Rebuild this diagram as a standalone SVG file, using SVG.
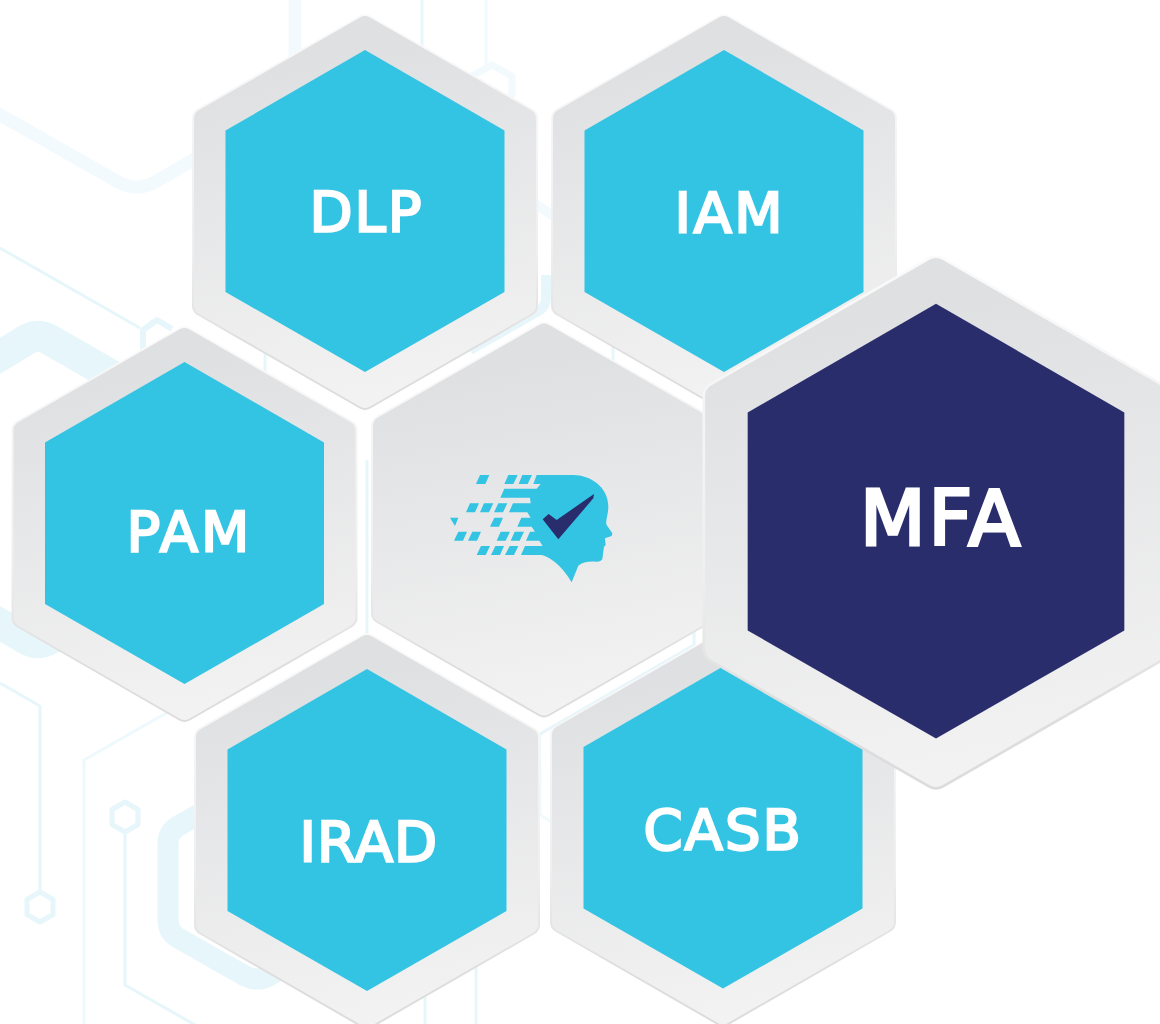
<svg xmlns="http://www.w3.org/2000/svg" xmlns:xlink="http://www.w3.org/1999/xlink" width="1160" height="1024" viewBox="0 0 1160 1024">
<style>
.lbl{font-family:"DejaVu Sans","Liberation Sans",sans-serif;font-weight:400;fill:#fff;stroke:#fff;stroke-width:2.4;font-size:56px}
.line{fill:none;stroke:#e6f6fb;stroke-width:3}
.pale{fill:none;stroke:#f3fafd;stroke-width:13}
.wide{fill:none;stroke:#e7f6fb;stroke-width:21}
.nub{fill:none;stroke:#e6f6fb;stroke-width:5;stroke-linejoin:round}
.shell{fill:url(#shellFill);stroke:url(#shellEdge);stroke-width:2}
.cyan{fill:#33c3e3}
.navy{fill:#2a2d6c}
</style>
<defs>
<linearGradient id="shellFill" x1="0.42" y1="0" x2="0.58" y2="1">
<stop offset="0.1" stop-color="#dfe0e2"/><stop offset="1" stop-color="#f3f3f3"/>
</linearGradient>
<linearGradient id="shellEdge" x1="0.5" y1="0" x2="0.5" y2="1">
<stop offset="0" stop-color="#fafafa"/><stop offset="0.6" stop-color="#efefef"/><stop offset="0.85" stop-color="#dedede"/><stop offset="1" stop-color="#dcdcdc"/>
</linearGradient>
<path id="hexOuter" d="M5.2,-195.5L166.8,-102.5Q172,-99.5 172,-93.5L172,93.5Q172,99.5 166.8,102.5L5.2,195.5Q0,198.5 -5.2,195.5L-166.8,102.5Q-172,99.5 -172,93.5L-172,-93.5Q-172,-99.5 -166.8,-102.5L-5.2,-195.5Q0,-198.5 5.2,-195.5Z"/>
<path id="hexInner" d="M0,-162L139.5,-81.5L139.5,80L0,160L-139.5,80L-139.5,-81.5Z"/>
<path id="nubHex" d="M0,-15L13,-7.5L13,7.5L0,15L-13,7.5L-13,-7.5Z"/>
</defs>
<rect width="1160" height="1024" fill="#fff"/>
<g id="connectors">
<path class="pale" d="M-5,112L118,182Q137,192 155,182L200,156"/>
<path class="pale" d="M295,0V60"/>
<path class="line" d="M422,0V50"/>
<path class="line" style="stroke:#f0fafd" d="M486,0V70"/>
<path class="nub" style="stroke:#f3fafd;stroke-width:7" d="M492,65L512,76V95L492,106L472,95V76Z"/>
<path class="line" d="M0,248L140,328"/>
<path class="nub" style="stroke-width:6" d="M143,352V330L157,320L172,329"/>
<path class="wide" style="stroke-width:31" d="M-10,362L26,340Q38,333 50,340L200,426"/>
<path class="wide" style="stroke-width:31" d="M-10,618L26,639Q38,646 50,639L75,625"/>
<path class="line" d="M265,340V380"/>
<path class="pale" style="stroke-width:10" d="M530,200L556,218"/>
<path class="wide" style="stroke-width:10" d="M470,350L540,310Q546,306 546,298V275"/>
<path class="line" d="M613,345V365"/>
<path class="line" d="M367,460V640"/>
<path class="line" d="M540,734L694,645V625"/>
<path class="line" style="stroke:#f0fafd" d="M540,735V815L555,824"/>
<path class="line" d="M0,683L40,706V892"/>
<use href="#nubHex" class="nub" x="40" y="907"/>
<path class="line" style="stroke:#edf9fc" d="M175,708L84,760V1024"/>
<use href="#nubHex" class="nub" x="125" y="817"/>
<path class="line" d="M125,832V985L197,1026"/>
<path class="wide" d="M215,805L178,826Q168,832 168,844V920Q168,932 178,938L245,976Q257,982 269,976L300,958"/>
<path class="line" d="M425,990V1024"/>
<path class="line" d="M476,960V1024"/>
</g>
<g id="node-dlp">
<use href="#hexOuter" class="shell" x="365" y="212"/>
<use href="#hexInner" class="cyan" x="365" y="212"/>
<text class="lbl" x="309.500" y="230.800" letter-spacing="2">DLP</text>
</g>
<g id="node-iam">
<use href="#hexOuter" class="shell" x="724" y="212"/>
<use href="#hexInner" class="cyan" x="724" y="212"/>
<text class="lbl" x="674.500" y="231.800" letter-spacing="2.500">IAM</text>
</g>
<g id="node-pam">
<use href="#hexOuter" class="shell" x="184.500" y="524"/>
<use href="#hexInner" class="cyan" x="184.500" y="524"/>
<text class="lbl" x="126.500" y="550.800" letter-spacing="3">PAM</text>
</g>
<g id="node-center">
<use href="#hexOuter" class="shell" x="544" y="519.500"/>
<g id="logo" transform="translate(430,450) scale(0.3333)">
<path class="cyan" d="M320,75L430,75C480,75 535,110 535,170C535,195 525,215 530,225L547,250L545,258L525,265L527,285L522,290L517,328Q512,336 500,335C478,333 458,335 445,347L425,397C410,370 375,325 335,315L273,315L285,288L338,288L328,272L288,272L300,245L315,245L305,230L262,230L274,203L302,203L292,187L237,187L249,160L302,160L300,143L211,143L223,116L320,116L332,102L310,102Z"/>
<path class="cyan" d="M150,75H178L166,102H138ZM235,75H263L250,102H223ZM277,75H306L293,102H266ZM120,160H147L135,187H108ZM162,160H190L177,187H150ZM205,160H232L219,187H192ZM60,203H85L75,228ZM193,203H219L207,230H180ZM85,245H111L99,272H72ZM127,245H153L141,272H114ZM212,245H240L227,272H200ZM254,245H282L269,272H242ZM153,288H180L167,315H140ZM196,288H222L210,315H183ZM239,288H265L252,315H225Z"/>
<path class="navy" d="M338,208L356,192L380,210L492,132L490,145L385,268Z"/>
</g>
</g>
<g id="node-irad">
<use href="#hexOuter" class="shell" x="367" y="831"/>
<use href="#hexInner" class="cyan" x="367" y="831"/>
<text class="lbl" x="299.500" y="860.800" letter-spacing="1">IRAD</text>
</g>
<g id="node-casb">
<use href="#hexOuter" class="shell" x="723" y="828.500"/>
<use href="#hexInner" class="cyan" x="723" y="828.500"/>
<text class="lbl" x="643.500" y="849" letter-spacing="2">CASB</text>
</g>
<g id="node-mfa">
<use href="#hexOuter" class="shell" transform="translate(936,522.500) scale(1.35)"/>
<use href="#hexInner" class="navy" transform="translate(936,522.500) scale(1.35)"/>
<text class="lbl" x="860" y="545.400" letter-spacing="3" style="font-size:76px;stroke-width:3.200">MFA</text>
</g>
</svg>
